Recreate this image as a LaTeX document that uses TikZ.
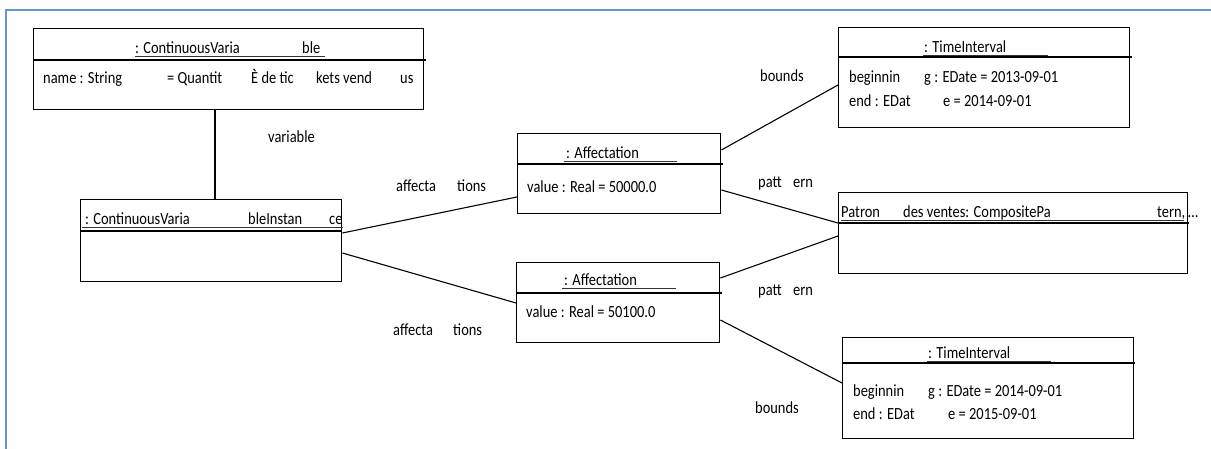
\documentclass[tikz,border=0pt]{standalone}
\usepackage{fontspec}
\setmainfont{Carlito}[FakeStretch=0.85]
\usetikzlibrary{calc}
\tikzset{
  umlbox/.style={draw=black, line width=1.4pt, rectangle, inner sep=0pt, anchor=north west},
  txt/.style={anchor=base west, inner sep=0pt, font=\fontsize{17}{20}\selectfont, text=black},
  conn/.style={draw=black, line width=1.1pt},
  uline/.style={draw=black!80, line width=0.8pt},
  divider/.style={draw=black, line width=1.1pt}
}
\begin{document}
\begin{tikzpicture}[x=1pt,y=-1pt]
\useasboundingbox (0,0) rectangle (1211,449);
% frame
\draw[line width=2pt, draw={rgb,255:red,91;green,155;blue,213}] (6,449) -- (6,10) -- (1211,10);

% boxes
\node[umlbox, minimum width=390pt, minimum height=81pt] (cv) at (33,28) {};
\node[umlbox, minimum width=261pt, minimum height=82pt] (inst) at (80,199) {};
\node[umlbox, minimum width=203pt, minimum height=80pt] (aff1) at (517,133) {};
\node[umlbox, minimum width=203pt, minimum height=80pt] (aff2) at (516,262) {};
\node[umlbox, minimum width=291pt, minimum height=100pt] (ti1) at (838,27) {};
\node[umlbox, minimum width=349pt, minimum height=81pt] (pat) at (838,192) {};
\node[umlbox, minimum width=291pt, minimum height=101pt] (ti2) at (842,337) {};

% dividers
\draw[divider] ($(cv.north west)+(0,32)$) -- +(393,0);
\draw[divider] ($(inst.north west)+(0,32)$) -- +(261,0);
\draw[divider] ($(aff1.north west)+(0,31)$) -- +(206,0);
\draw[divider] ($(aff2.north west)+(0,31)$) -- +(206,0);
\draw[divider] ($(ti1.north west)+(0,30)$) -- +(294,0);
\draw[divider] ($(pat.north west)+(0,31)$) -- +(351,0);
\draw[divider] ($(ti2.north west)+(0,26)$) -- +(293,0);

% underlines of titles
\draw[uline] (135,56.5) -- (325,56.5);
\draw[uline] (82,227.5) -- (343,227.5);
\draw[uline] (564,161.5) -- (677,161.5);
\draw[uline] (562,288.5) -- (676,288.5);
\draw[uline] (923,55.5) -- (1048,55.5);
\draw[uline] (841,220.5) -- (1184,220.5);
\draw[uline] (927,361.5) -- (1051,361.5);

% texts: ContinuousVariable
\node[txt] (cvt1) at (135,54) {: ContinuousVaria};
\node[txt] (cvt2) at (302,54) {ble};
\node[txt] (cva1) at (43,84) {name : String};
\node[txt] (cva2) at (167,84) {= Quantit};
\node[txt] (cva3) at (251,84) {È de tic};
\node[txt] (cva4) at (316,84) {kets vend};
\node[txt] (cva5) at (400,84) {us};

% instance
\node[txt] (it1) at (85,225) {: ContinuousVaria};
\node[txt] (it2) at (248,225) {bleInstan};
\node[txt] (it3) at (329,225) {ce};

% affectations
\node[txt] (a1t) at (566,159) {: Affectation};
\node[txt] (a1v) at (527,193) {value : Real = 50000.0};
\node[txt] (a2t) at (564,286) {: Affectation};
\node[txt] (a2v) at (526,318) {value : Real = 50100.0};

% time interval 1
\node[txt] (t1t) at (924,53) {: TimeInterval};
\node[txt] (t1a) at (849,83) {beginnin};
\node[txt] (t1b) at (924,83) {g : EDate = 2013-09-01};
\node[txt] (t1c) at (849,107) {end : EDat};
\node[txt] (t1d) at (943,107) {e = 2014-09-01};

% patron
\node[txt] (p1) at (841,218) {Patron};
\node[txt] (p2) at (903,218) {des ventes: CompositePa};
\node[txt] (p3) at (1157,218) {tern,\,…};

% time interval 2
\node[txt] (t2t) at (928,359) {: TimeInterval};
\node[txt] (t2a) at (853,396) {beginnin};
\node[txt] (t2b) at (928,396) {g : EDate = 2014-09-01};
\node[txt] (t2c) at (853,419) {end : EDat};
\node[txt] (t2d) at (948,419) {e = 2015-09-01};

% connectors
\draw[conn] ($(cv.south west)+(182,0)$) -- ($(inst.north west)+(135,0)$);
\draw[conn] ($(inst.north east)+(0,34)$) -- ($(aff1.north west)+(0,64)$);
\draw[conn] ($(inst.north east)+(0,54)$) -- ($(aff2.north west)+(0,41)$);
\draw[conn] ($(aff1.north east)+(0,17)$) -- ($(ti1.north west)+(0,58)$);
\draw[conn] ($(aff1.north east)+(0,57)$) -- ($(pat.north west)+(0,31)$);
\draw[conn] ($(aff2.north east)+(0,16)$) -- ($(pat.north west)+(0,44)$);
\draw[conn] ($(aff2.north east)+(0,58)$) -- ($(ti2.north west)+(0,46)$);

% labels
\node[txt] (lvar) at (268,143) {variable};
\node[txt] (laff1a) at (396,192) {affecta};
\node[txt] (laff1b) at (457,192) {tions};
\node[txt] (laff2a) at (393,335) {affecta};
\node[txt] (laff2b) at (453,335) {tions};
\node[txt] (lb1) at (760,82) {bounds};
\node[txt] (lp1a) at (758,188) {patt};
\node[txt] (lp1b) at (793,188) {ern};
\node[txt] (lp2a) at (758,295) {patt};
\node[txt] (lp2b) at (793,295) {ern};
\node[txt] (lb2) at (755,413) {bounds};
\end{tikzpicture}
\end{document}
